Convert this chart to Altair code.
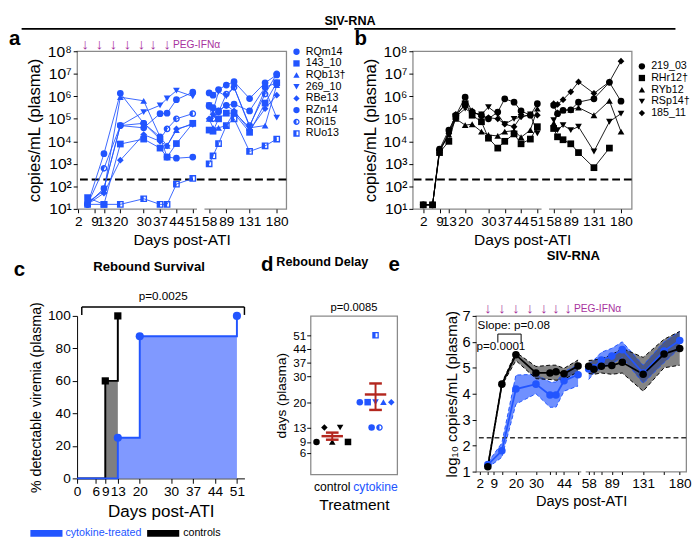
import altair as alt
import pandas as pd
import numpy as np

FONT = "Liberation Sans"
BLUE = "#2255ff"
PURPLE = "#a8329e"
RED = "#b3261e"
FRAME = "#8a8a8a"

# ---------------- Panel a: cytokine-treated animals, log10 copies/mL plasma
days_a = [6, 13, 20, 30, 37, 40, 44, 51, 58, 65, 75, 89, 103, 131, 159, 180]
a_names = ["RQm14", "143_10", "RQb13†", "269_10", "RBe13", "RZn14", "ROi15", "RUo13"]
a_RQm14 = [1.20, 3.45, 6.13, 4.80, 4.20, 3.30, 3.25, 3.30, 5.60, 5.50, 5.35, 5.60, 5.65, 5.35, 6.40, 6.60]
a_143_10 = [1.50, 1.20, 3.88, 4.10, 3.70, 3.30, 3.90, 4.80, 4.50, 4.45, 5.00, 5.25, 5.25, 4.40, 5.70, 6.60]
a_RQb13 = [1.30, 1.80, 5.96, 5.80, 4.20, 3.80, 4.50, 4.80, 5.00, 4.60, 4.60, 4.70, 5.30, 4.60, 4.70, 6.50]
a_269_10 = [1.20, 1.90, 4.70, 5.30, 5.60, 5.90, 6.25, 6.00, 5.60, 5.35, 6.20, 6.00, 6.40, 4.65, 6.30, 5.05]
a_RBe13 = [1.20, 1.70, 3.16, 4.30, 4.00, 3.80, 4.55, 4.75, 5.00, 5.20, 5.35, 5.60, 5.35, 4.50, 5.45, 6.05]
a_RZn14 = [1.20, 1.90, 4.70, 4.60, 5.23, 5.25, 5.85, 6.18, 6.15, 6.05, 6.30, 6.50, 6.65, 5.90, 6.60, 6.95]
a_ROi15 = [1.20, 2.80, 4.70, 4.80, 4.10, 4.55, 5.00, 5.23, 5.55, 5.00, 5.30, 6.10, 6.40, 4.70, 6.10, 7.00]
a_RUo13 = [1.20, 1.20, 1.20, 1.45, 1.20, 1.20, 2.10, 2.35, 3.00, 3.35, 3.90, 4.70, 5.00, 3.55, 3.80, 4.10]
a_series = [a_RQm14, a_143_10, a_RQb13, a_269_10, a_RBe13, a_RZn14, a_ROi15, a_RUo13]

# ---------------- Panel b: control animals, log10 copies/mL plasma
days_b = [2, 6, 9, 13, 16, 20, 23, 27, 30, 34, 37, 41, 44, 48, 51, 58, 65, 75, 89, 103, 131, 159, 180]
b_names = ["219_03", "RHr12†", "RYb12", "RSp14†", "185_11"]
b_219_03 = [1.18, 1.18, 3.65, 4.50, 5.15, 5.96, 5.30, 5.16, 5.00, 5.30, 5.89, 5.74, 5.35, 5.16, 5.67,
            5.60, 5.23, 5.38, 5.40, 5.74, 5.89, 6.62, 5.78]
b_RHr12 = [1.18, 1.18, 3.50, 4.00, 5.10, 5.67, 5.16, 4.87, 4.14, 3.70, 4.00, 4.33, 3.89, 4.10, 4.65,
           4.57, 4.20, 4.07, 3.89, 3.50, 2.83, 3.70, None]
b_RYb12 = [1.18, 1.18, 3.60, 4.30, 5.00, 4.72, 4.76, 4.43, 4.28, 4.24, 4.43, 4.47, 4.18, 4.50, 5.45,
           4.80, 5.30, 5.38, 5.40, 5.50, 5.16, 5.80, 4.43]
b_RSp14 = [1.18, 1.18, 3.55, 4.30, 5.10, 5.45, 5.25, 5.20, 5.52, 5.20, 4.76, 5.00, 5.08, 5.20, 4.36,
           4.94, 4.50, 4.72, 4.50, 4.65, 3.55, 4.87, 5.23]
b_185_11 = [1.18, 1.18, 3.60, 4.35, 5.20, 5.60, 5.35, 5.10, 5.05, 5.00, 4.76, 4.65, 5.10, 5.16, 5.16,
            5.67, 5.64, 5.85, 6.20, 6.64, 6.13, 6.64, 7.56]
b_series = [b_219_03, b_RHr12, b_RYb12, b_RSp14, b_185_11]

lod_copies = 200
peg_days_a = [5, 11, 17, 23, 29, 34, 40]
peg_days_e = [6, 13, 20, 27, 34, 40, 46]
ab_labels = [2, 9, 13, 20, 30, 37, 44, 51, 58, 89, 131, 180]

# ---------------- Panel c: Kaplan-Meier rebound
km_ctrl_days = [0, 9, 13]
km_ctrl_pct = [0, 60, 100]
km_cyto_days = [0, 13, 20, 51]
km_cyto_pct = [0, 25, 87.5, 100]
c_labels = [0, 6, 9, 13, 20, 30, 37, 44, 51]

# ---------------- Panel d: rebound delay (days)
ctrl_rebound = [9, 13, 9, 13, 9]
ctrl_shapes = ["circle", "diamond", "triangle-up", "triangle-down", "square"]
ctrl_slots = [1, 3, 5, 7, 9]
cyto_rebound = [13, 20, 20, 20, 20, 20, 13, 51]   # in a_names order
cyto_slots = [4, 3, 7, 5, 9, 1, 6, 5]
d_labels = [6, 9, 13, 20, 30, 37, 44, 51]

# ---------------- Panel e: group means (log10) with bands
e_days = [6, 13, 20, 30, 37, 40, 44, 51, 58, 65, 75, 89, 103, 131, 159, 180]
ctrl_mean = [1.19, 4.37, 5.50, 4.80, 4.80, 4.85, 4.77, 5.07, 5.06, 4.94, 5.06, 5.09, 5.21, 4.75, 5.53, 5.74]
ctrl_lo = [1.12, 4.32, 5.28, 4.58, 4.55, 4.52, 4.55, 4.85, 4.78, 4.75, 4.80, 4.75, 4.80, 4.10, 5.00, 5.10]
ctrl_hi = [1.26, 4.42, 5.60, 5.05, 5.10, 5.10, 4.98, 5.30, 5.28, 5.30, 5.35, 5.50, 5.75, 5.40, 6.10, 6.40]
cyto_mean = [1.27, 1.80, 4.18, 4.37, 3.95, 3.95, 4.50, 4.73, 4.95, 5.00, 5.30, 5.45, 5.70, 4.80, 5.65, 6.05]
cyto_lo = [1.15, 1.55, 3.60, 4.00, 3.48, 3.48, 4.10, 4.30, 4.55, 4.80, 5.00, 5.15, 5.40, 4.40, 5.20, 5.75]
cyto_hi = [1.35, 2.10, 4.72, 4.75, 4.45, 4.45, 4.85, 5.12, 5.15, 5.30, 5.60, 5.75, 6.00, 5.10, 6.00, 6.40]
e_labels = [2, 9, 20, 30, 44, 58, 89, 131, 180]

HALF_CIRCLE = "M0,-1A1,1,0,0,0,0,1Z M0,-1A1,1,0,0,1,0,1L0,0.6A0.6,0.6,0,0,0,0,-0.6Z"
HALF_SQUARE = "M-1,-1L0,-1L0,1L-1,1Z M0,-1L1,-1L1,1L0,1L0,0.6L0.6,0.6L0.6,-0.6L0,-0.6Z"
a_shapes = ["circle", "square", "triangle-up", "triangle-down", "diamond", "circle", HALF_CIRCLE, HALF_SQUARE]
b_shapes = ["circle", "square", "triangle-up", "triangle-down", "diamond"]


def ab_pos(d):
    return round(d if d <= 53 else 58 + (d - 58) * 0.237, 3)


def e_pos(d):
    return round(d if d <= 53 else 56.3 + (d - 58) * 0.372, 3)


def d_pos(v):
    return round(v * 3.74 if v <= 22.5 else 91.3 + (v - 25) * 2.03, 3)


def label_expr(pairs):
    s = ""
    for p, lab in pairs:
        s += f"datum.value == {p} ? '{lab}' : "
    return s + "''"


def txt(t, x, y, size=13, weight="normal", color="black", align="center", baseline="middle"):
    return alt.Chart(pd.DataFrame({"t": [t]})).mark_text(
        fontSize=size, fontWeight=weight, color=color, align=align, baseline=baseline, font=FONT
    ).encode(text="t:N", x=alt.value(x), y=alt.value(y))


def hrule(x1, x2, y, width=2):
    return alt.Chart(pd.DataFrame({"a": [0]})).mark_rule(color="black", strokeWidth=width).encode(
        x=alt.value(x1), x2=alt.value(x2), y=alt.value(y))


SUP = {1: "¹", 2: "²", 3: "³", 4: "⁴", 5: "⁵", 6: "⁶", 7: "⁷", 8: "⁸"}
log_vals = [10 ** k for k in range(1, 9)]
y_ab_axis = alt.Axis(values=log_vals, labelExpr=label_expr([(10 ** k, "10" + SUP[k]) for k in range(1, 9)]),
                     title="copies/mL (plasma)", titleFontSize=17, labelFontSize=16, tickSize=4,
                     grid=False, domain=False, titlePadding=4, tickColor="black", labelOverlap=False)


def ab_panel(names, series, days, shapes, color, width, height, domain, letter, letter_x, legend_y,
             peg, rule_x1, rule_x2):
    rec = []
    for nm, vals in zip(names, series):
        for d, v in zip(days, vals):
            if v is None:
                continue
            rec.append(dict(animal=nm, pos=ab_pos(d), copies=10 ** v, seg="s1" if d <= 53 else "s2"))
    df = pd.DataFrame(rec)
    xax = alt.Axis(values=[ab_pos(d) for d in ab_labels], labelExpr=label_expr([(ab_pos(d), str(d)) for d in ab_labels]),
                   title="Days post-ATI", titleFontSize=16, labelFontSize=14, tickSize=4, grid=False,
                   domain=False, labelFlush=False, labelOverlap=False, labelPadding=2, tickColor="black")
    x = alt.X("pos:Q", scale=alt.Scale(domain=domain, nice=False, zero=False), axis=xax)
    y = alt.Y("copies:Q", scale=alt.Scale(type="log", domain=[10, 1e8], nice=False), axis=y_ab_axis)
    lines = alt.Chart(df).mark_line(color=color, strokeWidth=0.9).encode(
        x=x, y=y, detail=["animal:N", "seg:N"], order="pos:Q")
    pts = alt.Chart(df).mark_point(filled=True, size=48, opacity=1, color=color, strokeWidth=0).encode(
        x=x, y=y,
        shape=alt.Shape("animal:N", scale=alt.Scale(domain=names, range=shapes),
                        legend=alt.Legend(title=None, orient="none", legendX=width + 5, legendY=legend_y,
                                          labelFontSize=11, labelFont=FONT, symbolSize=42, rowPadding=0,
                                          symbolFillColor=color, symbolStrokeWidth=0, labelOffset=4,
                                          padding=0)))
    lod = alt.Chart(pd.DataFrame({"copies": [lod_copies]})).mark_rule(
        strokeDash=[8, 4], strokeWidth=2, color="black").encode(y=y)
    brk = alt.Chart(pd.DataFrame({"pos": [52.8], "pos2": [56.0]})).mark_rect(color="white").encode(
        x=x, x2="pos2:Q", y=alt.value(height - 3), y2=alt.value(height + 4))
    layers = [lod, lines, pts, brk, txt(letter, letter_x, -12, size=21, weight="bold", align="left"),
              hrule(rule_x1, rule_x2, -23)]
    if peg:
        arr = alt.Chart(pd.DataFrame({"pos": [ab_pos(d) for d in peg_days_a]})).mark_text(
            text="↓", fontSize=15, color=PURPLE, baseline="bottom").encode(x=x, y=alt.value(1))
        pegt = alt.Chart(pd.DataFrame({"pos": [ab_pos(peg_days_a[-1])], "t": ["PEG-IFNα"]})).mark_text(
            align="left", dx=6, baseline="bottom", fontSize=10.5, color=PURPLE, font=FONT).encode(
            x=x, y=alt.value(-1), text="t:N")
        layers += [arr, pegt]
    return alt.layer(*layers).properties(width=width, height=height,
                                         view=alt.ViewBackground(stroke=FRAME, strokeWidth=1.3))


panel_a = ab_panel(a_names, a_series, days_a, a_shapes, BLUE, 215, 162, [1.5, 91], "a", -70, -5, True, -57, 268)
panel_b = ab_panel(b_names, b_series, days_b, b_shapes, "black", 225, 162, [-2.5, 91.5], "b", -60, 10, False,
                   -60, 270)

# ---------------- panel c
df_kc = pd.DataFrame({"day": km_ctrl_days, "pct": km_ctrl_pct})
df_ky = pd.DataFrame({"day": km_cyto_days, "pct": km_cyto_pct})
xc = alt.X("day:Q", scale=alt.Scale(domain=[0, 53.4], nice=False, zero=False),
           axis=alt.Axis(values=c_labels, title="Days post-ATI", labelFontSize=14, titleFontSize=17.5,
                         tickSize=5, grid=False, labelFlush=False, labelOverlap=False,
                         domainColor="black", tickColor="black"))
yc = alt.Y("pct:Q", scale=alt.Scale(domain=[0, 100], nice=False),
           axis=alt.Axis(values=[0, 20, 40, 60, 80, 100], title="% detectable viremia (plasma)",
                         labelFontSize=14, titleFontSize=14.6, tickSize=5, grid=False,
                         domainColor="black", tickColor="black"))
c_layers = [
    alt.Chart(df_kc).mark_area(interpolate="step-after", color="#7f7f7f", opacity=1).encode(x=xc, y=yc),
    alt.Chart(df_ky).mark_area(interpolate="step-after", color="#8099ff", opacity=1).encode(x=xc, y=yc),
    alt.Chart(df_kc).mark_line(interpolate="step-after", color="black", strokeWidth=2).encode(x=xc, y=yc),
    alt.Chart(df_ky).mark_line(interpolate="step-after", color=BLUE, strokeWidth=2).encode(x=xc, y=yc),
    alt.Chart(df_kc[df_kc.pct > 0]).mark_point(shape="square", filled=True, size=55, color="black",
                                               opacity=1).encode(x=xc, y=yc),
    alt.Chart(df_ky[df_ky.pct > 0]).mark_point(shape="circle", filled=True, size=70, color=BLUE,
                                               opacity=1).encode(x=xc, y=yc),
    alt.Chart(pd.DataFrame({"day": [1.5], "day2": [53.4], "pct": [105.5]})).mark_rule(
        color="black", strokeWidth=1.5).encode(x=xc, x2="day2:Q", y=yc),
    alt.Chart(pd.DataFrame({"day": [1.5, 53.4], "pct": [100.6, 100.6], "pct2": [105.5, 105.5]})).mark_rule(
        color="black", strokeWidth=1.5).encode(x=xc, y=yc, y2="pct2:Q"),
    alt.Chart(pd.DataFrame({"day": [27.5], "pct": [108], "t": ["p=0.0025"]})).mark_text(
        baseline="bottom", fontSize=12, font=FONT).encode(x=xc, y=yc, text="t:N"),
    txt("Rebound Survival", 74, -50, size=13.5, weight="bold"),
    txt("c", -65, -47, size=21, weight="bold", align="left"),
    alt.Chart(pd.DataFrame({"a": [0]})).mark_rect(color=BLUE).encode(
        x=alt.value(-48), x2=alt.value(-15), y=alt.value(220), y2=alt.value(227)),
    txt("cytokine-treated", -12, 223, size=11, color=BLUE, align="left"),
    alt.Chart(pd.DataFrame({"a": [0]})).mark_rect(color="black").encode(
        x=alt.value(72), x2=alt.value(105), y=alt.value(220), y2=alt.value(227)),
    txt("controls", 109, 223, size=11, align="left"),
]
panel_c = alt.layer(*c_layers).properties(width=172, height=167, view=alt.ViewBackground(stroke=None))

# ---------------- panel d
d_rows = []
for v, s, sl in zip(ctrl_rebound, ctrl_shapes, ctrl_slots):
    d_rows.append(dict(group="control", ypos=d_pos(v), shape=s, fill="black", slot=sl))
for v, s, sl in zip(cyto_rebound, a_shapes, cyto_slots):
    d_rows.append(dict(group="cytokine", ypos=d_pos(v), shape=s, fill=BLUE, slot=sl))
df_d = pd.DataFrame(d_rows)
err_rows = []
for g, vals in [("control", ctrl_rebound), ("cytokine", cyto_rebound)]:
    arr = np.array(vals, dtype=float)
    m = arr.mean()
    se = arr.std(ddof=1) / np.sqrt(len(arr))
    err_rows.append(dict(group=g, ypos=d_pos(m), lo=d_pos(m - se), hi=d_pos(m + se)))
df_err = pd.DataFrame(err_rows)
df_caps = pd.concat([df_err[["group", "lo"]].rename(columns={"lo": "ypos"}),
                     df_err[["group", "hi"]].rename(columns={"hi": "ypos"})])
xd = alt.X("group:N", scale=alt.Scale(domain=["control", "cytokine"], paddingInner=0, paddingOuter=0),
           axis=alt.Axis(title="Treatment", titleFontSize=16, labelFontSize=12.5, labelAngle=0, tickSize=0,
                         domain=False, labelPadding=6,
                         labelColor={"condition": {"test": "datum.value == 'cytokine'", "value": BLUE},
                                     "value": "black"}))
yd = alt.Y("ypos:Q", scale=alt.Scale(domain=[0, 164], nice=False, zero=False),
           axis=alt.Axis(values=[d_pos(v) for v in d_labels],
                         labelExpr=label_expr([(d_pos(v), str(v)) for v in d_labels]),
                         title="days (plasma)", titleFontSize=14, labelFontSize=12, tickSize=4,
                         grid=False, domain=False, labelPadding=1, tickColor="black", labelOverlap=False))
d_layers = [
    alt.Chart(df_d).mark_point(filled=True, size=45, opacity=1, strokeWidth=0).encode(
        x=xd, y=yd, xOffset=alt.XOffset("slot:O", scale=alt.Scale(domain=list(range(11)))),
        shape=alt.Shape("shape:N", scale=None), color=alt.Color("fill:N", scale=None)),
    alt.Chart(df_err).mark_rule(color=RED, strokeWidth=2).encode(x=xd, y=yd, y2="hi:Q"),
    alt.Chart(df_err).mark_rule(color=RED, strokeWidth=2).encode(x=xd, y=yd, y2="lo:Q"),
    alt.Chart(df_err).mark_tick(color=RED, thickness=2.5, size=22, opacity=1).encode(x=xd, y=yd),
    alt.Chart(df_caps).mark_tick(color=RED, thickness=2.5, size=13, opacity=1).encode(x=xd, y=yd),
    txt("p=0.0085", 44.5, -3, size=11.5, baseline="bottom"),
    txt("Rebound Delay", 12, -55, size=13, weight="bold"),
    txt("d", -51, -52, size=21, weight="bold", align="left"),
    txt("e", 80, -52, size=21, weight="bold", align="left"),
]
panel_d = alt.layer(*d_layers).properties(width=89, height=163,
                                          view=alt.ViewBackground(stroke=FRAME, strokeWidth=1.3))

# ---------------- panel e
e_rows = []
for grp, mv, lo, hi in [("cyto", cyto_mean, cyto_lo, cyto_hi), ("ctrl", ctrl_mean, ctrl_lo, ctrl_hi)]:
    for d, a, b, c in zip(e_days, mv, lo, hi):
        e_rows.append(dict(grp=grp, pos=e_pos(d), v=a, lo=b, hi=c, seg="s1" if d <= 53 else "s2"))
df_e = pd.DataFrame(e_rows)
dcy = df_e[df_e.grp == "cyto"]
dct = df_e[df_e.grp == "ctrl"]
e_tick_vals = sorted(set([e_pos(d) for d in e_labels] + [e_pos(d) for d in e_days]))
ax_e_y = alt.Axis(values=[1, 2, 3, 4, 5, 6, 7], title="log₁₀ copies/mL (plasma)", titleFontSize=15.5,
                  labelFontSize=15, tickSize=4, grid=False, domain=False, titlePadding=3, tickColor="black")
xe = alt.X("pos:Q", scale=alt.Scale(domain=[0.1, 104.9], nice=False, zero=False),
           axis=alt.Axis(values=e_tick_vals, labelExpr=label_expr([(e_pos(d), str(d)) for d in e_labels]),
                         title="Days post-ATI", titleFontSize=15, labelFontSize=14, tickSize=3, grid=False,
                         domain=False, labelFlush=False, labelOverlap=False, tickColor="black"))
sc_e = alt.Scale(domain=[1, 7], nice=False)


def ye(f):
    return alt.Y(f"{f}:Q", scale=sc_e, axis=ax_e_y)


e_layers = [
    alt.Chart(dcy).mark_area(color=BLUE, opacity=0.65).encode(x=xe, y=ye("lo"), y2="hi:Q", detail="seg:N"),
    alt.Chart(dct).mark_area(color="#333333", opacity=0.6).encode(x=xe, y=ye("lo"), y2="hi:Q", detail="seg:N"),
]
for dfx, col in [(dcy, BLUE), (dct, "black")]:
    for f in ["lo", "hi"]:
        e_layers.append(alt.Chart(dfx).mark_line(color=col, strokeWidth=1, strokeDash=[4, 2.5]).encode(
            x=xe, y=ye(f), detail="seg:N"))
e_layers += [
    alt.Chart(pd.DataFrame({"v": [np.log10(lod_copies)]})).mark_rule(
        strokeDash=[5, 3], strokeWidth=1.5, color="#333333").encode(y=ye("v")),
    alt.Chart(dcy).mark_line(color=BLUE, strokeWidth=1.8).encode(x=xe, y=ye("v"), detail="seg:N"),
    alt.Chart(dct).mark_line(color="black", strokeWidth=1.8).encode(x=xe, y=ye("v"), detail="seg:N"),
    alt.Chart(dcy).mark_point(filled=True, size=60, color=BLUE, opacity=1).encode(x=xe, y=ye("v")),
    alt.Chart(dct).mark_point(filled=True, size=60, color="black", opacity=1).encode(x=xe, y=ye("v")),
    alt.Chart(pd.DataFrame({"pos": [52.6], "pos2": [54.8]})).mark_rect(color="white").encode(
        x=xe, x2="pos2:Q", y=alt.value(157), y2=alt.value(164)),
    alt.Chart(pd.DataFrame({"pos": [e_pos(d) for d in peg_days_e]})).mark_text(
        text="↓", fontSize=15, color=PURPLE, baseline="bottom").encode(x=xe, y=alt.value(0)),
    alt.Chart(pd.DataFrame({"pos": [e_pos(peg_days_e[-1])], "t": ["PEG-IFNα"]})).mark_text(
        align="left", dx=6, baseline="bottom", fontSize=10.5, color=PURPLE, font=FONT).encode(
        x=xe, y=alt.value(-2), text="t:N"),
    alt.Chart(pd.DataFrame({"pos": [0.9], "v": [6.66], "t": ["Slope: p=0.08"]})).mark_text(
        align="left", fontSize=12, font=FONT).encode(x=xe, y=ye("v"), text="t:N"),
    alt.Chart(pd.DataFrame({"pos": [0.3], "v": [5.82], "t": ["p=0.0001"]})).mark_text(
        align="left", fontSize=12, font=FONT).encode(x=xe, y=ye("v"), text="t:N"),
    alt.Chart(pd.DataFrame({"pos": [11.0], "pos2": [22.6], "v": [6.3]})).mark_rule(
        color="black", strokeWidth=1).encode(x=xe, x2="pos2:Q", y=ye("v")),
    alt.Chart(pd.DataFrame({"pos": [11.0, 22.6], "v": [5.97, 5.97], "v2": [6.3, 6.3]})).mark_rule(
        color="black", strokeWidth=1).encode(x=xe, y=ye("v"), y2="v2:Q"),
    txt("SIV-RNA", 100, -61, size=13.5, weight="bold"),
]
panel_e = alt.layer(*e_layers).properties(width=216, height=160,
                                          view=alt.ViewBackground(stroke=FRAME, strokeWidth=1.3))

row1 = alt.hconcat(panel_a, panel_b, spacing=6).resolve_scale(
    shape="independent", color="independent").resolve_legend(shape="independent", color="independent")
row2 = alt.hconcat(panel_c, alt.hconcat(panel_d, panel_e, spacing=44), spacing=15).resolve_scale(
    shape="independent", color="independent")
chart = alt.vconcat(row1, row2, spacing=0,
                    title=alt.TitleParams("SIV-RNA", anchor="middle", fontSize=13, fontWeight="bold",
                                          font=FONT, offset=-1)).resolve_scale(
    shape="independent", color="independent").resolve_legend(shape="independent", color="independent").configure(
    font=FONT, padding=0
).configure_axis(labelFont=FONT, titleFont=FONT, titleFontWeight="normal", labelColor="black",
                 titleColor="black").configure_legend(labelFont=FONT)

chart.save("out.html", embed_options={"renderer": "svg", "actions": False})
